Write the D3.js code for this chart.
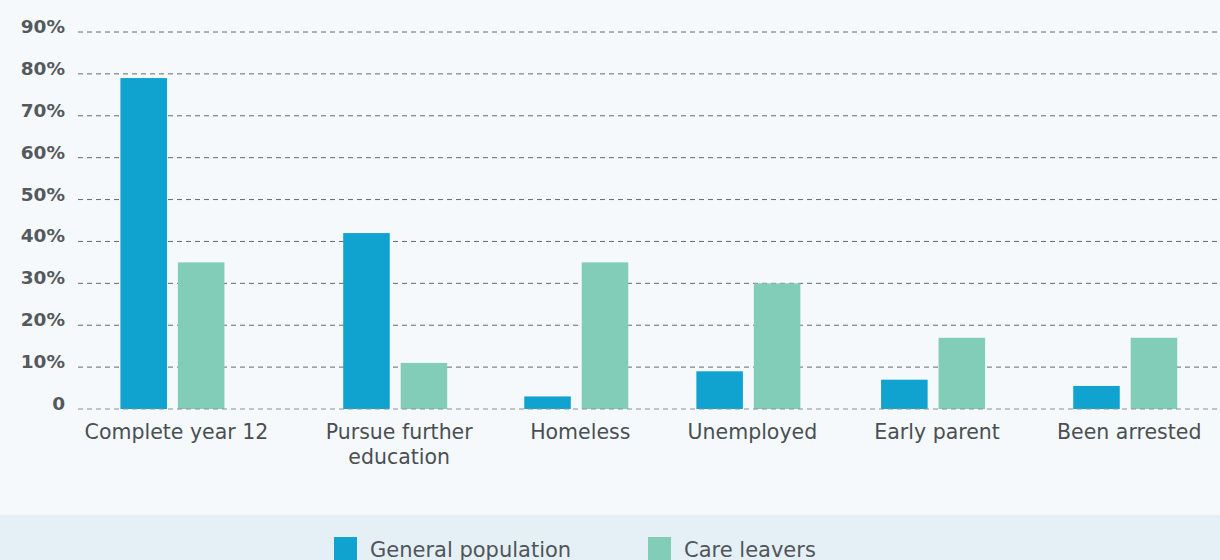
<!DOCTYPE html>
<html>
<head>
<meta charset="utf-8">
<script src="https://cdn.jsdelivr.net/npm/d3@7"></script>
<style>
  body { margin: 0; background: #f5f9fc; }
  svg { display: block; font-family: "DejaVu Sans", sans-serif; }
</style>
</head>
<body>
<svg id="mainsvg" width="1220" height="560"></svg>
<script>
// data
const categories = ['Complete year 12', 'Pursue further education', 'Homeless', 'Unemployed', 'Early parent', 'Been arrested'];
const labelLines = [['Complete year 12'], ['Pursue further', 'education'], ['Homeless'], ['Unemployed'], ['Early parent'], ['Been arrested']];
const series = ['General population', 'Care leavers'];
const generalPopulation = [79, 42, 3, 9, 7, 5.5];
const careLeavers = [35, 11, 35, 30, 17, 17];
const yTicks = [0, 10, 20, 30, 40, 50, 60, 70, 80, 90];

var svg = d3.select('#mainsvg'),
    width = +svg.attr('width'),
    height = +svg.attr('height');

var colors = d3.scaleOrdinal().domain(series).range(['#11a3cf', '#82cdb8']);

svg.append('rect').attr('width', width).attr('height', height).attr('fill', '#f5f9fc');
svg.append('rect').attr('y', 515).attr('width', width).attr('height', height - 515).attr('fill', '#e5f0f6');

var y = d3.scaleLinear().domain([0, 90]).range([409, 32]);

// grid
var grid = svg.append('g');
grid.selectAll('line')
    .data(yTicks.filter(d => d > 0))
    .enter().append('line')
    .attr('x1', 78).attr('x2', width)
    .attr('y1', d => y(d)).attr('y2', d => y(d))
    .attr('stroke', '#666a6d')
    .attr('stroke-width', 1)
    .attr('stroke-dasharray', '5,4');

svg.append('g').selectAll('text')
    .data(yTicks)
    .enter().append('text')
    .attr('x', 65)
    .attr('y', d => y(d) + 1)
    .attr('text-anchor', 'end')
    .attr('font-size', 18.5)
    .attr('font-weight', 700)
    .attr('fill', '#55595d')
    .text(d => d === 0 ? '0' : d + '%');

// x labels, columns sized like an auto table from label widths
var xl = svg.append('g');
var labels = xl.selectAll('text')
    .data(categories)
    .enter().append('text')
    .attr('text-anchor', 'middle')
    .attr('font-size', 20.5)
    .attr('fill', '#4a4f53');
labels.each(function (d, i) {
    var t = d3.select(this);
    labelLines[i].forEach(function (line, k) {
        t.append('tspan').attr('x', 0).attr('dy', k === 0 ? 0 : 25).text(line);
    });
});
var widths = [];
labels.each(function () { widths.push(this.getBBox().width); });
var left = 52, right = 1226;
var pad = (right - left - d3.sum(widths)) / categories.length;
var centers = [], acc = left;
widths.forEach(function (w) { centers.push(acc + (w + pad) / 2); acc += w + pad; });
var x = d3.scaleOrdinal().domain(categories).range(centers);
var xSub = d3.scaleBand().domain(series).range([-52, 52]).paddingInner(0.19);

labels.attr('transform', d => 'translate(' + (x(d) + 4) + ',439)');

// bars
var rows = categories.map((c, i) => ({cat: c, values: [generalPopulation[i], careLeavers[i]]}));
var groups = svg.append('g').selectAll('g')
    .data(rows)
    .enter().append('g')
    .attr('transform', d => 'translate(' + x(d.cat) + ',0)');
groups.selectAll('rect')
    .data(d => d.values.map((v, k) => ({s: series[k], v: v})))
    .enter().append('rect')
    .attr('x', d => xSub(d.s))
    .attr('width', xSub.bandwidth())
    .attr('y', d => y(d.v))
    .attr('height', d => y(0) - y(d.v))
    .attr('fill', d => colors(d.s));

// baseline dashes over bars
svg.append('line')
    .attr('x1', 78).attr('x2', width)
    .attr('y1', y(0)).attr('y2', y(0))
    .attr('stroke', '#8a9094')
    .attr('stroke-dasharray', '5,4');

// legend (cut by the bottom edge, as in the source)
var legend = svg.append('g');
var lx = [334, 648];
series.forEach(function (s, i) {
    legend.append('rect').attr('x', lx[i]).attr('y', 537).attr('width', 23).attr('height', 26).attr('fill', colors(s));
    legend.append('text').attr('x', lx[i] + 36).attr('y', 557)
        .attr('font-size', 21).attr('fill', '#505559').text(s);
});
</script>
</body>
</html>
